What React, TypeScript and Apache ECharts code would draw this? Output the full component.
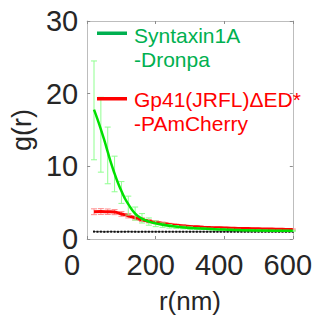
import React, { useEffect, useRef } from 'react';
import * as echarts from 'echarts';

// Axis ticks
const xTicks = [0, 200, 400, 600];
const yTicks = [0, 10, 20, 30];

// Measured g(r) points (r in nm)
const rData = [20, 40, 60, 80, 100, 120, 140, 160, 180, 200, 220, 240, 260, 280, 300,
  320, 340, 360, 380, 400, 420, 440, 460, 480, 500, 520, 540, 560, 580, 600];
const greenMean = [17.7, 14.35, 11.5, 8.95, 6.4, 4.6, 3.5, 2.85, 2.4, 2.1, 1.9, 1.75, 1.65, 1.58, 1.5,
  1.45, 1.4, 1.37, 1.33, 1.3, 1.27, 1.25, 1.22, 1.2, 1.18, 1.16, 1.15, 1.14, 1.13, 1.12];
const greenErr = [6.8, 5.15, 3.9, 2.45, 1.5, 1.3, 0.9, 0.65, 0.5, 0.4, 0.3, 0.25, 0.2, 0.18, 0.15,
  0.12, 0.1, 0.1, 0.1, 0.08, 0.08, 0.08, 0.07, 0.07, 0.07, 0.06, 0.06, 0.06, 0.06, 0.06];
const redMean = [3.75, 3.78, 3.75, 3.7, 3.45, 3.2, 2.9, 2.65, 2.45, 2.3, 2.15, 2.0, 1.9, 1.8, 1.72,
  1.67, 1.62, 1.58, 1.55, 1.52, 1.49, 1.46, 1.44, 1.42, 1.4, 1.38, 1.36, 1.34, 1.32, 1.3];
const redErr = [0.4, 0.4, 0.38, 0.35, 0.32, 0.3, 0.28, 0.25, 0.22, 0.2, 0.18, 0.16, 0.15, 0.14, 0.13,
  0.12, 0.11, 0.1, 0.1, 0.1, 0.09, 0.09, 0.09, 0.08, 0.08, 0.08, 0.08, 0.08, 0.08, 0.08];

// Green fitted curve
const rFit = [20, 30, 40, 50, 60, 70, 80, 90, 100, 110, 120, 140, 160, 180, 200, 250, 300, 350, 400, 500, 600];
const greenFit = [17.8, 16.5, 15.1, 13.6, 12.0, 10.4, 9.0, 7.7, 6.6, 5.6, 4.8, 3.5, 2.8, 2.4, 2.15, 1.75, 1.5, 1.4, 1.3, 1.18, 1.12];

// Black control (random) g(r)
const rBlack = [20, 30, 40, 50, 60, 70, 80, 90, 100, 110, 120, 130, 140, 150, 160, 170, 180, 190, 200,
  210, 220, 230, 240, 250, 260, 270, 280, 290, 300, 310, 320, 330, 340, 350, 360, 370, 380, 390, 400,
  410, 420, 430, 440, 450, 460, 470, 480, 490, 500, 510, 520, 530, 540, 550, 560, 570, 580, 590, 600];
const blackVals = [1.02, 1.0, 1.01, 0.99, 1.0, 1.01, 1.0, 0.99, 1.0, 1.0, 1.01, 1.0, 1.0, 0.99, 1.0, 1.0, 1.0, 1.0, 1.0,
  1.0, 1.0, 1.0, 1.0, 1.0, 1.0, 1.0, 1.0, 1.0, 1.0, 1.0, 1.0, 1.0, 1.0, 1.0, 1.0, 1.0, 1.0, 1.0, 1.0,
  1.0, 1.0, 1.0, 1.0, 1.0, 1.0, 1.0, 1.0, 1.0, 1.0, 1.0, 1.0, 1.0, 1.0, 1.0, 1.0, 1.0, 1.0, 1.0, 1.0];

const legendGreen = 'Syntaxin1A\n-Dronpa';
const legendRed = 'Gp41(JRFL)\u0394ED*\n-PAmCherry';

const FONT = '"Liberation Sans", Arial, Helvetica, sans-serif';
const TXT = '#262626';
const FRAME = '#bdbdbd';

function errRender(color: string) {
  return (params: any, api: any) => {
    const x = api.value(0);
    const lo = api.coord([x, api.value(1)]);
    const hi = api.coord([x, api.value(2)]);
    const w = 3;
    const st = { stroke: color, lineWidth: 1 };
    return {
      type: 'group',
      children: [
        { type: 'line', shape: { x1: lo[0], y1: lo[1], x2: hi[0], y2: hi[1] }, style: st },
        { type: 'line', shape: { x1: lo[0] - w, y1: lo[1], x2: lo[0] + w, y2: lo[1] }, style: st },
        { type: 'line', shape: { x1: hi[0] - w, y1: hi[1], x2: hi[0] + w, y2: hi[1] }, style: st },
      ],
    };
  };
}

export default function App() {
  const ref = useRef<HTMLDivElement>(null);
  useEffect(() => {
    document.body.style.margin = '0';
    const chart = echarts.init(ref.current!, null, { renderer: 'svg' });
    const xMin = xTicks[0], xMax = xTicks[xTicks.length - 1];
    const yMin = yTicks[0], yMax = yTicks[yTicks.length - 1];
    const xInt = xTicks[1] - xTicks[0];
    const yInt = yTicks[1] - yTicks[0];
    const tick = { show: true, inside: true, length: 3, lineStyle: { color: '#8c8c8c' } };
    const line = { show: true, onZero: false, lineStyle: { color: FRAME, width: 1 } };
    chart.setOption({
      animation: false,
      backgroundColor: '#ffffff',
      grid: { left: 85, right: 23, top: 21, bottom: 85, containLabel: false },
      xAxis: [
        {
          type: 'value', position: 'bottom', min: xMin, max: xMax, interval: xInt,
          axisLine: line, axisTick: tick, splitLine: { show: false },
          axisLabel: {
            color: TXT, fontSize: 29, fontFamily: FONT, margin: 15, lineHeight: 22,
            formatter: (v: number) => (v === 0 ? '{z|0}' : '{a|' + v + '}'),
            rich: {
              a: { fontSize: 29, fontFamily: FONT, color: TXT, lineHeight: 22, padding: [0, 10, 0, 0] },
              z: { fontSize: 29, fontFamily: FONT, color: TXT, lineHeight: 22, padding: [0, 30, 0, 0] },
            },
          },
          name: 'r(nm)', nameLocation: 'middle', nameGap: 49,
          nameTextStyle: { color: TXT, fontSize: 26, fontFamily: FONT },
        },
        {
          type: 'value', position: 'top', min: xMin, max: xMax, interval: xInt,
          axisLine: line, axisTick: tick, splitLine: { show: false }, axisLabel: { show: false },
        },
      ],
      yAxis: [
        {
          type: 'value', position: 'left', min: yMin, max: yMax, interval: yInt,
          axisLine: line, axisTick: tick, splitLine: { show: false },
          axisLabel: { color: TXT, fontSize: 29, fontFamily: FONT, margin: 9, lineHeight: 22 },
          name: 'g(r)', nameLocation: 'middle', nameGap: 45,
          nameTextStyle: { color: TXT, fontSize: 27, fontFamily: FONT },
        },
        {
          type: 'value', position: 'right', min: yMin, max: yMax, interval: yInt,
          axisLine: line, axisTick: tick, splitLine: { show: false }, axisLabel: { show: false },
        },
      ],
      series: [
        {
          type: 'line', name: 'control', xAxisIndex: 0, yAxisIndex: 0,
          data: rBlack.map((r, i) => [r, blackVals[i]]),
          symbol: 'rect', symbolSize: 2, showSymbol: true,
          lineStyle: { color: '#555555', width: 1 }, itemStyle: { color: '#111111' },
          z: 2,
        },
        {
          type: 'custom', name: 'redErr', xAxisIndex: 0, yAxisIndex: 0,
          renderItem: errRender('#ff8c8c'),
          encode: { x: 0, y: [1, 2] },
          data: rData.map((r, i) => [r, redMean[i] - redErr[i], redMean[i] + redErr[i]]),
          z: 3,
        },
        {
          type: 'line', name: 'red', xAxisIndex: 0, yAxisIndex: 0,
          data: rData.map((r, i) => [r, redMean[i]]),
          smooth: true, showSymbol: false,
          lineStyle: { color: '#ff0000', width: 3 },
          z: 4,
        },
        {
          type: 'custom', name: 'greenErr', xAxisIndex: 0, yAxisIndex: 0,
          renderItem: errRender('#90ff90'),
          encode: { x: 0, y: [1, 2] },
          data: rData.map((r, i) => [r, greenMean[i] - greenErr[i], greenMean[i] + greenErr[i]]),
          z: 5,
        },
        {
          type: 'line', name: 'green', xAxisIndex: 0, yAxisIndex: 0,
          data: rFit.map((r, i) => [r, greenFit[i]]),
          smooth: true, showSymbol: false,
          lineStyle: { color: '#00e000', width: 2.5 },
          z: 6,
        },
      ],
      graphic: [
        { type: 'rect', z: 100, shape: { x: 97, y: 31.5, width: 30, height: 3.5 }, style: { fill: '#00b050' } },
        {
          type: 'text', z: 100, x: 134, y: 23,
          style: { text: legendGreen, fill: '#00b050', fontSize: 21, fontFamily: FONT, lineHeight: 24.5, verticalAlign: 'top' },
        },
        { type: 'rect', z: 100, shape: { x: 97, y: 97, width: 30, height: 3.5 }, style: { fill: '#ff0000' } },
        {
          type: 'text', z: 100, x: 134, y: 87,
          style: { text: legendRed, fill: '#ff0000', fontSize: 21, fontFamily: FONT, lineHeight: 24.5, verticalAlign: 'top' },
        },
      ],
    });
    return () => chart.dispose();
  }, []);
  return <div ref={ref} style={{ width: 325, height: 324 }} />;
}
